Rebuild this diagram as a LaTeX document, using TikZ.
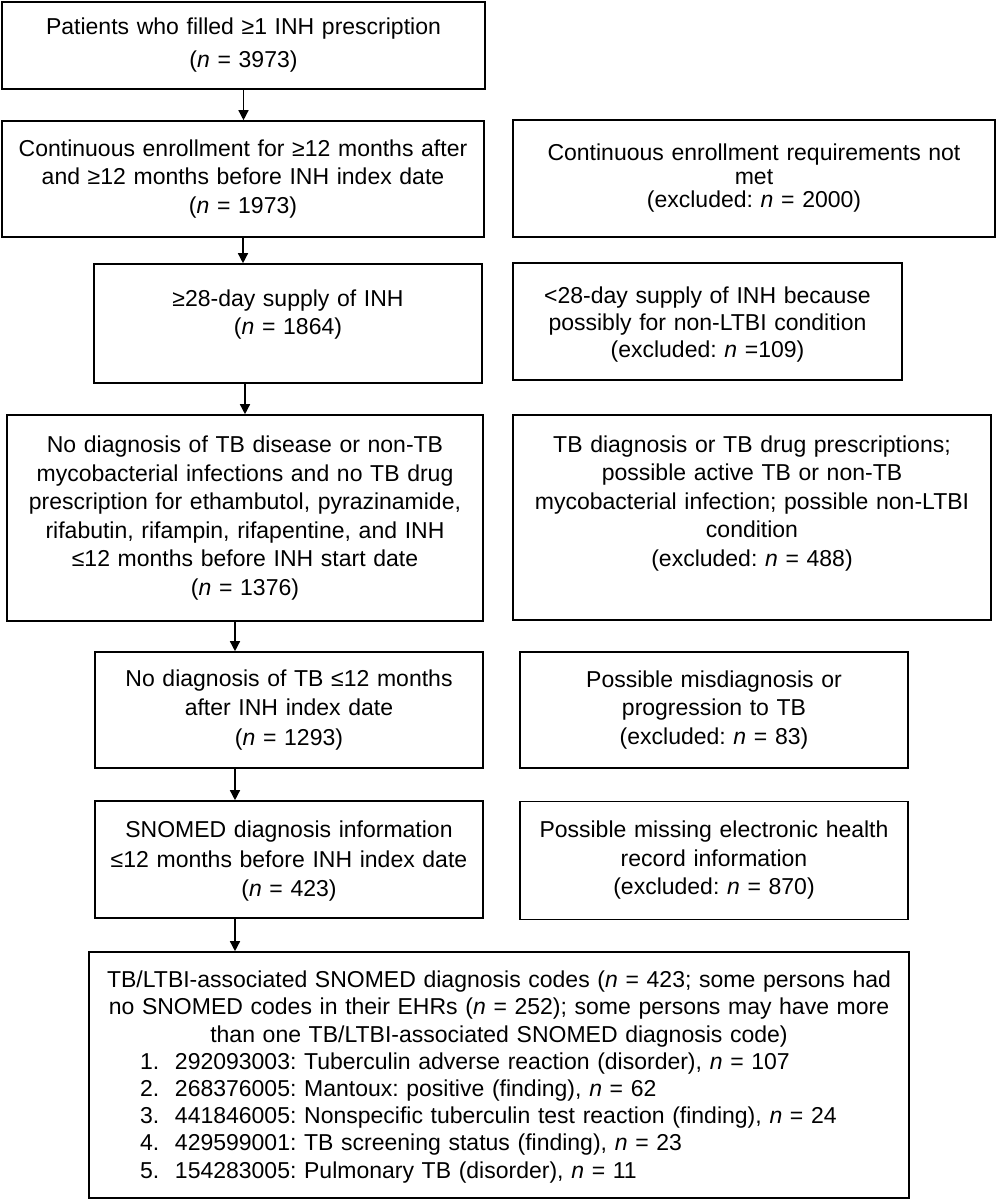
\documentclass[tikz,border=0pt]{standalone}
\usepackage{fontspec}
\setmainfont{Liberation Sans}
\usetikzlibrary{arrows.meta}
\newcommand\boxfont{\fontsize{23}{28.5}\selectfont\frenchspacing}
\newcommand\nsym{\textit{n}}
\newcommand\padbelow[1]{\par\vspace{#1}\nointerlineskip\hbox{}}
\newcommand\codeline[2]{\makebox[812pt][l]{\hspace{47pt}\makebox[35pt][l]{#1}#2}}
\tikzset{
  box/.style={draw, line width=1.6pt, align=center, inner xsep=4pt, inner ysep=0pt, font=\boxfont},
  flow/.style={line width=1.4pt, -{Triangle[length=10pt,width=10pt]}},
}

\begin{document}
\begin{tikzpicture}[x=1pt,y=-1pt]
  \useasboundingbox (0,0) rectangle (997,1200);

  % main column
  \node[box, text width=475pt, minimum height=87pt, font=\fontsize{23}{33}\selectfont] (patients) at (243.5,45.5)
    {Patients who filled ≥1 INH prescription\\(\nsym{} = 3973)};
  \node[box, text width=474pt, minimum height=116pt] (enrolled) at (243,179)
    {Continuous enrollment for ≥12 months after\\and ≥12 months before INH index date\\(\nsym{} = 1973)};
  \node[box, text width=380pt, minimum height=119pt] (supply) at (288,323.5)
    {≥28-day supply of INH\\(\nsym{} = 1864)\padbelow{18pt}};
  \node[box, text width=468pt, minimum height=206pt] (nomyco) at (245,518)
    {No diagnosis of TB disease or non-TB\\mycobacterial infections and no TB drug\\prescription for ethambutol, pyrazinamide,\\rifabutin, rifampin, rifapentine, and INH\\≤12 months before INH start date\\(\nsym{} = 1376)};
  \node[box, text width=380pt, minimum height=116pt, font=\fontsize{23}{29.5}\selectfont] (notb) at (289,710)
    {No diagnosis of TB ≤12 months\\after INH index date\\(\nsym{} = 1293)};
  \node[box, text width=380pt, minimum height=117pt, font=\fontsize{23}{29.5}\selectfont] (snomed) at (289,859.5)
    {SNOMED diagnosis information\\≤12 months before INH index date\\(\nsym{} = 423)\padbelow{-4pt}};
  \node[box, text width=812pt, minimum height=246pt, font=\fontsize{23}{27.2}\selectfont\frenchspacing] (codes) at (499,1075)
    {TB/LTBI-associated SNOMED diagnosis codes (\nsym{} = 423; some persons had\\
     no SNOMED codes in their EHRs (\nsym{} = 252); some persons may have more\\
     than one TB/LTBI-associated SNOMED diagnosis code)\\
     \codeline{1.}{292093003: Tuberculin adverse reaction (disorder), \nsym{} = 107}\\
     \codeline{2.}{268376005: Mantoux: positive (finding), \nsym{} = 62}\\
     \codeline{3.}{441846005: Nonspecific tuberculin test reaction (finding), \nsym{} = 24}\\
     \codeline{4.}{429599001: TB screening status (finding), \nsym{} = 23}\\
     \codeline{5.}{154283005: Pulmonary TB (disorder), \nsym{} = 11}\padbelow{-4pt}};

  % exclusions
  \node[box, text width=474pt, minimum height=117pt, font=\fontsize{23}{23.5}\selectfont\frenchspacing] (notmet) at (754,178.5)
    {Continuous enrollment requirements not\\met\\(excluded: \nsym{} = 2000)};
  \node[box, text width=381pt, minimum height=117pt, font=\fontsize{23}{27}\selectfont\frenchspacing] (short) at (707.5,321.5)
    {<28-day supply of INH because\\possibly for non-LTBI condition\\(excluded: \nsym{} =109)\padbelow{-6pt}};
  \node[box, text width=470pt, minimum height=205pt] (active) at (752,517.5)
    {TB diagnosis or TB drug prescriptions;\\possible active TB or non-TB\\mycobacterial infection; possible non-LTBI\\condition\\(excluded: \nsym{} = 488)\padbelow{28pt}};
  \node[box, text width=380pt, minimum height=116pt] (misdx) at (714,710)
    {Possible misdiagnosis or\\progression to TB\\(excluded: \nsym{} = 83)};
  \node[box, text width=380pt, minimum height=118pt] (missing) at (714,860.5)
    {Possible missing electronic health\\record information\\(excluded: \nsym{} = 870)};

  % arrows
  \coordinate (spine) at ([xshift=-10pt]nomyco.south);
  \draw[flow] (patients.south) -- (patients.south |- enrolled.north);
  \draw[flow] (enrolled.south) -- (enrolled.south |- supply.north);
  \draw[flow] (supply.south -| nomyco.north) -- (nomyco.north);
  \draw[flow] (spine) -- (spine |- notb.north);
  \draw[flow] (notb.south -| spine) -- (snomed.north -| spine);
  \draw[flow] (snomed.south -| spine) -- (codes.north -| spine);
\end{tikzpicture}
\end{document}
